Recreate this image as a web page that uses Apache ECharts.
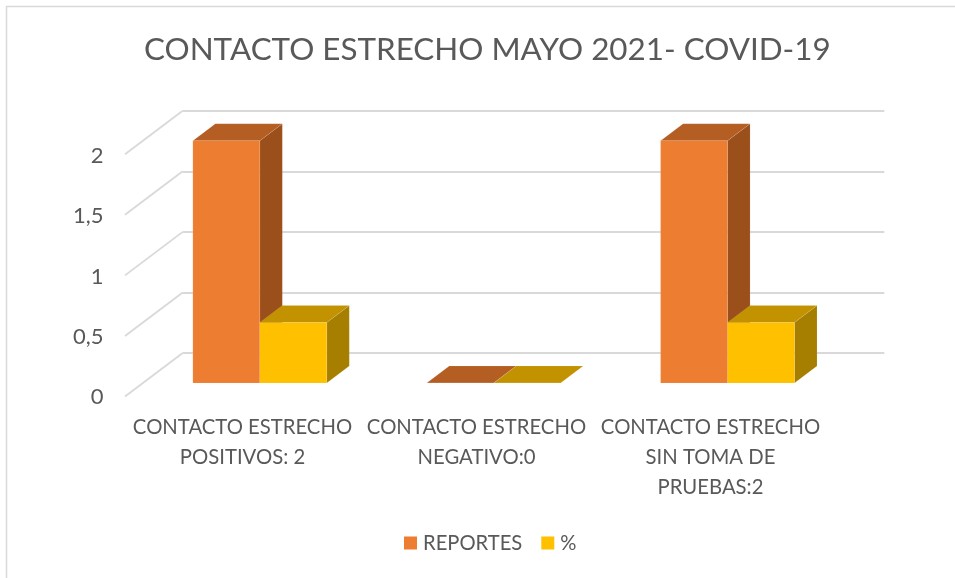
<!DOCTYPE html>
<html><head><meta charset="utf-8">
<style>html,body{margin:0;padding:0;background:#fff}#c{width:955px;height:578px}</style>
<script src="https://cdn.jsdelivr.net/npm/echarts@6/dist/echarts.min.js"></script>
</head><body><div id="c"></div>
<script>
const titleText = 'CONTACTO ESTRECHO MAYO 2021- COVID-19';
const categories = ['CONTACTO ESTRECHO\nPOSITIVOS: 2', 'CONTACTO ESTRECHO\nNEGATIVO:0', 'CONTACTO ESTRECHO\nSIN TOMA DE\nPRUEBAS:2'];
const reportes = [2, 0, 2];
const porcentaje = [0.5, 0, 0.5];
const yTicks = [0, 0.5, 1, 1.5, 2];
const FONT = 'Lato';
const TEXT = '#595959';
const GRID = '#D9D9D9';

// perspective of the 3D box: full floor depth and the slab the bars occupy
const DEPTH = [-57.7, 43.5];
const BAR_FRONT = 0.69, BAR_BACK = 0.30, BAR_WIDTH = 0.2863;

function shade(frontC, topC, sideC, idx) {
  return function (params, api) {
    const cat = api.value(0), val = api.value(1);
    const band = api.size([1, 0])[0];
    const w = band * BAR_WIDTH;
    const base = api.coord([cat, 0]);
    const top = api.coord([cat, val]);
    const fx = base[0] + DEPTH[0] * BAR_FRONT + (idx - 1) * w;
    const fy0 = base[1] + DEPTH[1] * BAR_FRONT;
    const fy1 = top[1] + DEPTH[1] * BAR_FRONT;
    const ddx = DEPTH[0] * (BAR_BACK - BAR_FRONT), ddy = DEPTH[1] * (BAR_BACK - BAR_FRONT);
    const edge = 'rgba(255,255,255,0.2)';
    const poly = (pts, c) => ({type: 'polygon', shape: {points: pts}, style: {fill: c, stroke: edge, lineWidth: 0.5}});
    return {type: 'group', children: [
      poly([[fx + w, fy1], [fx + w + ddx, fy1 + ddy], [fx + w + ddx, fy0 + ddy], [fx + w, fy0]], sideC),
      poly([[fx, fy1], [fx + ddx, fy1 + ddy], [fx + w + ddx, fy1 + ddy], [fx + w, fy1]], topC),
      poly([[fx, fy1], [fx + w, fy1], [fx + w, fy0], [fx, fy0]], frontC)
    ]};
  };
}

const chart = echarts.init(document.getElementById('c'), null, {renderer: 'canvas'});
chart.setOption({
  animation: false,
  backgroundColor: '#fff',
  title: {text: titleText, left: 144, top: 34, padding: 0,
    textStyle: {fontFamily: FONT, fontSize: 31.4, fontWeight: 'normal', color: TEXT}},
  legend: {left: 404, top: 533, padding: 0, itemWidth: 13, itemHeight: 13, itemGap: 19,
    icon: 'rect', textStyle: {fontFamily: FONT, fontSize: 20.2, color: TEXT, padding: [0, 0, 0, 1]},
    data: ['REPORTES', '%']},
  graphic: [{type: 'polyline', silent: true, z: -1,
    shape: {points: [[6.5, 578], [6.5, 6.5], [955, 6.5]]},
    style: {stroke: GRID, lineWidth: 1.5, fill: 'none'}}],
  grid: [
    {left: 182.7, right: 70.7, top: 110.7, height: 242.3},
    {left: 125.5, right: 127.5, top: 156, height: 241}
  ],
  xAxis: [
    {type: 'category', gridIndex: 0, data: categories, axisLine: {show: false}, axisTick: {show: false}, axisLabel: {show: false}},
    {type: 'category', gridIndex: 1, data: categories, axisLine: {show: false}, axisTick: {show: false},
      axisLabel: {interval: 0, margin: 15.5, lineHeight: 30, fontFamily: FONT, fontSize: 20.3, color: TEXT}}
  ],
  yAxis: [
    {type: 'value', gridIndex: 0, min: 0, max: 2, interval: 0.5, axisLabel: {show: false},
      axisLine: {show: false}, axisTick: {show: false},
      splitLine: {show: true, lineStyle: {color: GRID, width: 2}}},
    {type: 'value', gridIndex: 1, min: 0, max: 2, interval: 0.5, axisLine: {show: false}, axisTick: {show: false},
      splitLine: {show: false},
      axisLabel: {margin: 22, fontFamily: FONT, fontSize: 22, color: TEXT,
        formatter: v => String(v).replace('.', ',')}}
  ],
  series: [
    {type: 'custom', name: 'sideWalls', xAxisIndex: 0, yAxisIndex: 0, silent: true, z: 1,
      data: yTicks.map(v => [0, v]),
      encode: {x: 0, y: 1},
      renderItem: (params, api) => {
        const band = api.size([1, 0])[0];
        const p = api.coord([0, api.value(1)]);
        const x = p[0] - band / 2;
        return {type: 'line', shape: {x1: x, y1: p[1], x2: x + DEPTH[0], y2: p[1] + DEPTH[1]},
          style: {stroke: GRID, lineWidth: 1.8}};
      }},
    {type: 'custom', name: 'REPORTES', xAxisIndex: 0, yAxisIndex: 0, z: 2,
      itemStyle: {color: '#ED7D31'}, encode: {x: 0, y: 1},
      data: reportes.map((v, i) => [i, v]),
      renderItem: shade('#ED7D31', '#B55E23', '#9B4F1B', 0)},
    {type: 'custom', name: '%', xAxisIndex: 0, yAxisIndex: 0, z: 3,
      itemStyle: {color: '#FFC000'}, encode: {x: 0, y: 1},
      data: porcentaje.map((v, i) => [i, v]),
      renderItem: shade('#FFC000', '#C29200', '#A67F00', 1)},
    {type: 'bar', xAxisIndex: 1, yAxisIndex: 1, data: [], silent: true}
  ]
});
</script></body></html>
